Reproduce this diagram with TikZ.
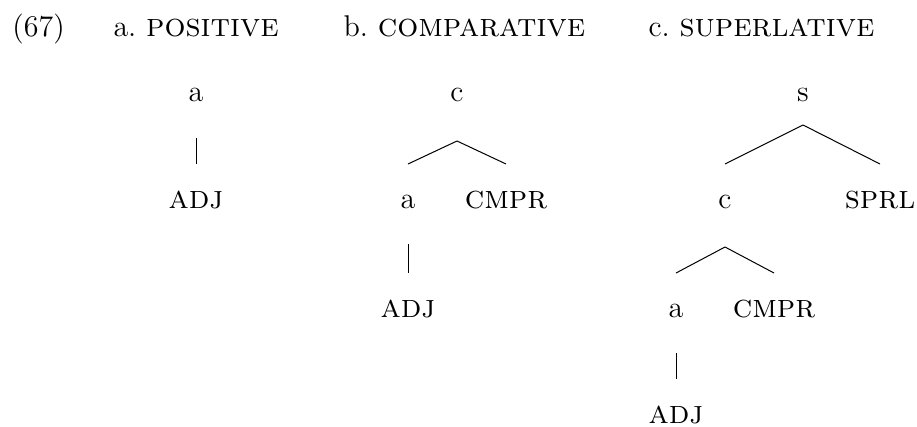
\documentclass[tikz,border=0pt]{standalone}
% small capitals set a size above the running text
\newcommand\capsword[1]{{\fontsize{13.2}{15.8}\selectfont\textsc{#1}}}
\begin{document}
\begin{tikzpicture}[x=0.4pt,y=-0.4pt,
  font=\fontsize{12}{14.4}\selectfont,
  lbl/.style={inner sep=0pt,anchor=base},
  head/.style={inner sep=0pt,anchor=base west},
  branch/.style={line width=0.4pt},
  % offsets from a node's baseline to where its edges begin or end
  fromlow/.style={yshift=-14.4pt},
  fromfork/.style={yshift=-15.6pt},
  fromroot/.style={yshift=-9.2pt},
  toward/.style={yshift=17.6pt}]
\useasboundingbox (0,0) rectangle (917,426);

% example number and column headings
\node[head] (num) at (12,37) {(67)};
\node[head] (hpos) at (113,37) {a.~\capsword{positive}};
\node[head] (hcmp) at (343,37) {b.~\capsword{comparative}};
\node[head] (hsup) at (648,37) {c.~\capsword{superlative}};

% a. positive
\node[lbl] (pa)   at (196,102) {a};
\node[lbl] (padj) at (196,208) {\capsword{adj}};
\draw[branch] ([fromlow]pa.base) -- ([toward]padj.base);

% b. comparative
\node[lbl] (cc)    at (457,102) {c};
\node[lbl] (ca)    at (408,208) {a};
\node[lbl] (ccmpr) at (506,208) {\capsword{cmpr}};
\node[lbl] (cadj)  at (408,317) {\capsword{adj}};
\draw[branch] ([fromfork]cc.base) -- ([toward]ca.base);
\draw[branch] ([fromfork]cc.base) -- ([toward]ccmpr.base);
\draw[branch] ([fromlow]ca.base) -- ([toward]cadj.base);

% c. superlative
\node[lbl] (ss)    at (803,102) {s};
\node[lbl] (sc)    at (725,208) {c};
\node[lbl] (ssprl) at (880,208) {\capsword{sprl}};
\node[lbl] (sa)    at (676,317) {a};
\node[lbl] (scmpr) at (774,317) {\capsword{cmpr}};
\node[lbl] (sadj)  at (676,423) {\capsword{adj}};
\draw[branch] ([fromroot]ss.base) -- ([toward]sc.base);
\draw[branch] ([fromroot]ss.base) -- ([toward]ssprl.base);
\draw[branch] ([fromfork]sc.base) -- ([toward]sa.base);
\draw[branch] ([fromfork]sc.base) -- ([toward]scmpr.base);
\draw[branch] ([fromlow]sa.base) -- ([toward]sadj.base);
\end{tikzpicture}
\end{document}
